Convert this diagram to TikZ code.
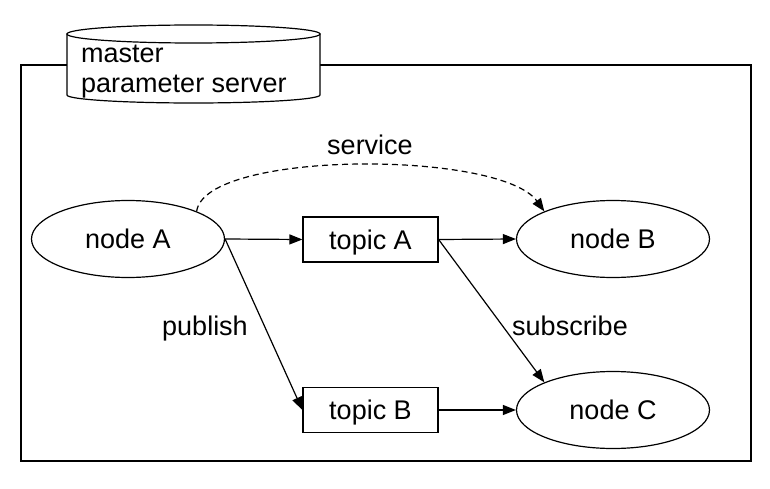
\documentclass[tikz,border=0pt]{standalone}
\usepackage{fontspec}
\setmainfont{Liberation Sans}
\usetikzlibrary{shapes.geometric,arrows.meta}
\begin{document}
\begin{tikzpicture}[x=1pt,y=1pt,
  every node/.style={font=\fontsize{27}{30}\selectfont, inner sep=0pt},
  proc/.style={ellipse, draw, line width=1.2pt, minimum width=193pt, minimum height=77pt, text depth=0pt},
  topicbox/.style={rectangle, draw, line width=1.2pt, minimum width=135pt, minimum height=45pt, text depth=0pt},
  conn/.style={line width=1.2pt, -{Triangle[length=13pt,width=10pt]}},
  lbl/.style={anchor=base}
]
\useasboundingbox (0,0) rectangle (770,488);
% outer frame
\draw[line width=1.2pt] (21,27) rectangle (751,423);
% cylinder (master)
\draw[line width=1.2pt, fill=white] (67,454) -- (67,393) arc[start angle=180, end angle=360, x radius=126.5pt, y radius=8pt] -- (320,454) -- cycle;
\draw[line width=1.2pt, fill=white] (193.5,454) ellipse[x radius=126.5pt, y radius=9pt];
\node[anchor=base west] (master1) at (81,425) {master};
\node[anchor=base west] (master2) at (81,395) {parameter server};
% nodes
\node[proc] (A) at (128,249) {node A};
\node[proc] (B) at (613,249) {node B};
\node[proc] (C) at (613,78) {node C};
\node[topicbox] (tA) at (370.5,248.5) {topic A};
\node[topicbox] (tB) at (370.5,78) {topic B};
% connectors
\draw[conn] (A.east) -- (tA.west);
\draw[conn] (tA.east) -- (B.west);
\draw[conn] (A.east) -- (tB.west);
\draw[conn] (tA.east) -- (C.north west);
\draw[conn] (tB.east) -- (C.west);
\draw[conn, dash pattern=on 6pt off 4pt] (A.north east) .. controls (205,338) and (500,338) .. (B.north west);
% labels
\node[lbl] (service) at (370,333) {service};
\node[lbl] (publish) at (205,153) {publish};
\node[lbl] (subscribe) at (570,153) {subscribe};
\end{tikzpicture}
\end{document}
